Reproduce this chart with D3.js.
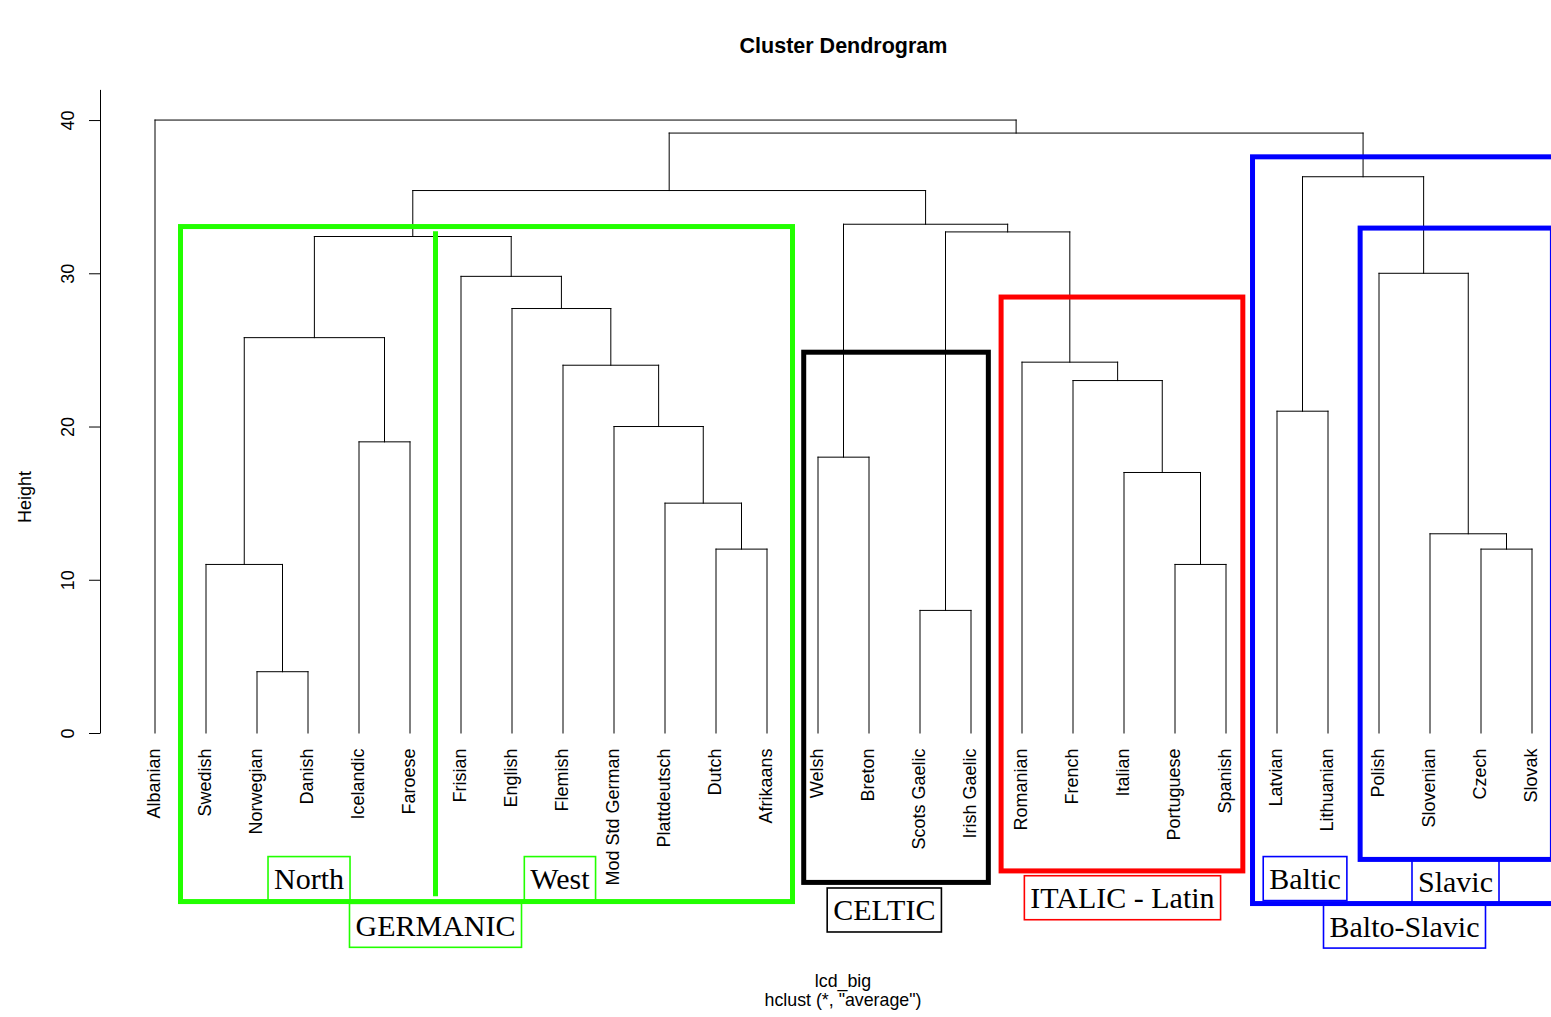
<!DOCTYPE html>
<html>
<head>
<meta charset="utf-8">
<script src="https://cdn.jsdelivr.net/npm/d3@7"></script>
<style>
  html, body { margin: 0; padding: 0; background: #fff; }
  svg { display: block; }
</style>
</head>
<body>
<svg id="chart" width="1551" height="1017"></svg>
<script>
// ---- data ----
const leaves = ["Albanian","Swedish","Norwegian","Danish","Icelandic","Faroese",
  "Frisian","English","Flemish","Mod Std German","Plattdeutsch","Dutch","Afrikaans",
  "Welsh","Breton","Scots Gaelic","Irish Gaelic",
  "Romanian","French","Italian","Portuguese","Spanish",
  "Latvian","Lithuanian","Polish","Slovenian","Czech","Slovak"];

// hclust-style merges: negative = leaf (1-based), positive = earlier merge (1-based)
const merges = [
  [-3,-4], [-16,-17], [-2,1], [-21,-22], [-12,-13], [-27,-28], [-26,6],
  [-11,5], [-20,4], [-14,-15], [-5,-6], [-10,8], [-23,-24], [-19,9],
  [-9,12], [-18,14], [3,11], [-8,15], [-7,18], [-25,7], [17,19],
  [2,16], [10,22], [21,23], [13,20], [24,25], [-1,26]
];
const mergeHeights = [
  4.0, 8.0, 11.0, 11.0, 12.0, 12.0, 13.0,
  15.0, 17.0, 18.0, 19.0, 20.0, 21.0, 23.0,
  24.0, 24.2, 25.8, 27.7, 29.8, 30.0, 32.4,
  32.7, 33.2, 35.4, 36.3, 39.15, 40.0
];
const yTicks = [0, 10, 20, 30, 40];

// group annotations (in dendrogram coordinates: leaf index, height)
const groupRects = [
  {x0: 1.5,  x1: 13.5,  y0: -11.0,  y1: 33.05, color: "#22ff00"},
  {x0: 13.72, x1: 17.34, y0: -9.75, y1: 24.85, color: "#000000"},
  {x0: 17.59, x1: 22.33, y0: -9.0,  y1: 28.45, color: "#ff0000"},
  {x0: 22.52, x1: 29.5,  y0: -11.13, y1: 37.6, color: "#0000ff"},
  {x0: 24.63, x1: 28.4,  y0: -8.25, y1: 32.95, color: "#0000ff"}
];
const groupLines = [
  {x: 6.5, y0: -10.65, y1: 32.75, color: "#22ff00"}
];
const groupLabels = [
  {text: "North",          x: 4.02,  y: -9.5,  color: "#22ff00"},
  {text: "West",           x: 8.94,  y: -9.5,  color: "#22ff00"},
  {text: "GERMANIC",       x: 6.5,   y: -12.55, color: "#22ff00"},
  {text: "CELTIC",         x: 15.3,  y: -11.55, color: "#000000"},
  {text: "ITALIC - Latin", x: 19.97, y: -10.75, color: "#ff0000"},
  {text: "Baltic",         x: 23.55, y: -9.5,  color: "#0000ff"},
  {text: "Slavic",         x: 26.5,  y: -9.7,  color: "#0000ff"},
  {text: "Balto-Slavic",   x: 25.5,  y: -12.6, color: "#0000ff"}
];

// ---- drawing ----
const svg = d3.select("#chart");
const SANS = "'Liberation Sans', Arial, Helvetica, sans-serif";
const SERIF = "'Liberation Serif', 'Times New Roman', serif";

const x = d3.scaleLinear().domain([1, leaves.length]).range([155, 1532]);
const y = d3.scaleLinear().domain([0, 42]).range([733, 89.4]);

// compute merge node positions
const nodeX = [], nodeH = [];
function childPos(c) {
  if (c < 0) return {x: -c, h: 0};
  return {x: nodeX[c - 1], h: nodeH[c - 1]};
}
const segs = [];
merges.forEach((m, i) => {
  const a = childPos(m[0]), b = childPos(m[1]);
  const h = mergeHeights[i];
  nodeX.push((a.x + b.x) / 2);
  nodeH.push(h);
  segs.push({x1: a.x, y1: a.h, x2: a.x, y2: h});
  segs.push({x1: a.x, y1: h, x2: b.x, y2: h});
  segs.push({x1: b.x, y1: h, x2: b.x, y2: b.h});
});

svg.append("g").selectAll("line").data(segs).join("line")
  .attr("x1", d => x(d.x1)).attr("y1", d => y(d.y1))
  .attr("x2", d => x(d.x2)).attr("y2", d => y(d.y2))
  .attr("stroke", "#000").attr("stroke-width", 1)
  .attr("stroke-linecap", "square");

// leaf labels
svg.append("g").selectAll("text").data(leaves).join("text")
  .attr("transform", (d, i) => `translate(${x(i + 1)},748.5) rotate(-90)`)
  .attr("text-anchor", "end")
  .attr("dy", "0.26em")
  .attr("font-family", SANS).attr("font-size", 18)
  .attr("fill", "#000")
  .text(d => d);

// y axis
const axis = d3.axisLeft(y).tickValues(yTicks).tickSize(11).tickSizeOuter(0);
const ag = svg.append("g").attr("transform", "translate(100,0)").call(axis);
ag.select(".domain").attr("stroke", "#000");
ag.selectAll(".tick line").attr("stroke", "#000");
ag.selectAll(".tick text")
  .attr("transform", "rotate(-90)")
  .attr("x", 0).attr("y", -26).attr("dy", 0)
  .attr("text-anchor", "middle")
  .attr("font-family", SANS).attr("font-size", 18).attr("fill", "#000");

svg.append("text")
  .attr("transform", "translate(31,497) rotate(-90)")
  .attr("text-anchor", "middle")
  .attr("font-family", SANS).attr("font-size", 18)
  .text("Height");

// titles
svg.append("text").attr("x", 843.5).attr("y", 53).attr("text-anchor", "middle")
  .attr("font-family", SANS).attr("font-size", 21.5).attr("font-weight", "bold")
  .text("Cluster Dendrogram");
svg.append("text").attr("x", 843).attr("y", 986.5).attr("text-anchor", "middle")
  .attr("font-family", SANS).attr("font-size", 17.8).text("lcd_big");
svg.append("text").attr("x", 843).attr("y", 1006).attr("text-anchor", "middle")
  .attr("font-family", SANS).attr("font-size", 17.8).text('hclust (*, "average")');

// group rectangles
svg.append("g").selectAll("rect").data(groupRects).join("rect")
  .attr("x", d => x(d.x0)).attr("y", d => y(d.y1))
  .attr("width", d => x(d.x1) - x(d.x0)).attr("height", d => y(d.y0) - y(d.y1))
  .attr("fill", "none").attr("stroke", d => d.color).attr("stroke-width", 5);

svg.append("g").selectAll("line").data(groupLines).join("line")
  .attr("x1", d => x(d.x)).attr("x2", d => x(d.x))
  .attr("y1", d => y(d.y0)).attr("y2", d => y(d.y1))
  .attr("stroke", d => d.color).attr("stroke-width", 5);

// boxed labels
const lg = svg.append("g").selectAll("g").data(groupLabels).join("g")
  .attr("transform", d => `translate(${x(d.x)},${y(d.y)})`);
lg.append("text")
  .attr("text-anchor", "middle").attr("y", 10.5)
  .attr("font-family", SERIF).attr("font-size", 30).attr("fill", "#000")
  .text(d => d.text);
lg.each(function() {
  const g = d3.select(this);
  const w = g.select("text").node().getComputedTextLength();
  g.insert("rect", "text")
    .attr("x", -w / 2 - 6).attr("y", -22).attr("width", w + 12).attr("height", 44)
    .attr("fill", "none")
    .attr("stroke", d => d.color).attr("stroke-width", 1.6);
});
</script>
</body>
</html>
